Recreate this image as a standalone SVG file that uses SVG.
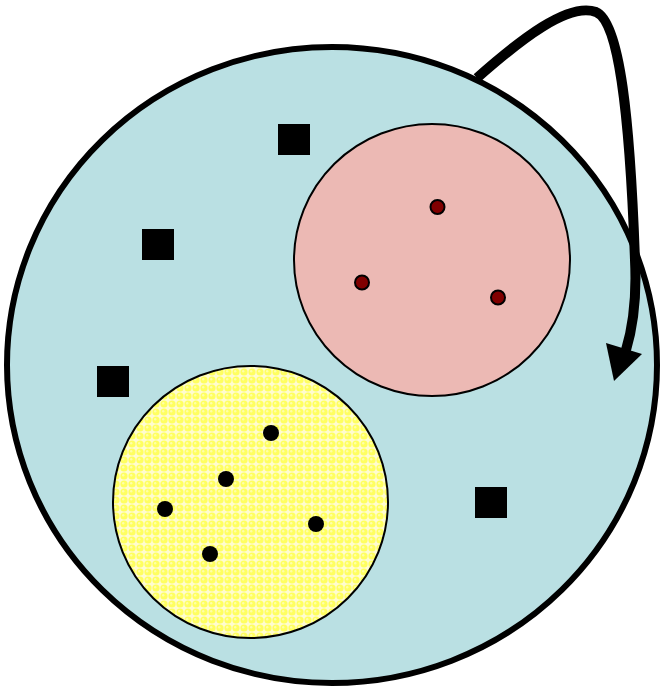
<svg xmlns="http://www.w3.org/2000/svg" width="663" height="688" viewBox="0 0 663 688">
<style>
.sq{fill:#000}
.rd{fill:#800000;stroke:#000;stroke-width:2}
.bd{fill:#000}
</style>
<defs>
<pattern id="dots" width="8" height="8" patternUnits="userSpaceOnUse">
<rect width="8" height="8" fill="#fffcd0"/>
<circle cx="4" cy="4" r="3.6" fill="#ffff60"/>
<circle cx="3.2" cy="3.2" r="1.2" fill="#ffffa8"/>
</pattern>
</defs>
<g id="cell">
<ellipse cx="332" cy="365" rx="325" ry="318" fill="#bae0e3" stroke="#000" stroke-width="6"/>
</g>
<g id="connectors">
<path d="M477,78 C520,40 568,2 596,12 C620,22 630,120 635,260 C637,300 632,330 626,350" fill="none" stroke="#000" stroke-width="10"/>
<polygon points="606,343 642,354 614,381" fill="#000"/>
</g>
<g id="pink">
<ellipse cx="432" cy="260" rx="138" ry="136" fill="#ecb9b4" stroke="#000" stroke-width="2"/>
<circle class="rd" cx="437.5" cy="207" r="7"/>
<circle class="rd" cx="362" cy="282.5" r="7"/>
<circle class="rd" cx="498" cy="297.5" r="7"/>
</g>
<g id="yellow">
<ellipse cx="250.5" cy="502" rx="137.5" ry="136" fill="url(#dots)" stroke="#000" stroke-width="2"/>
<circle class="bd" cx="271" cy="433" r="8"/>
<circle class="bd" cx="226" cy="479" r="8"/>
<circle class="bd" cx="165" cy="509" r="8"/>
<circle class="bd" cx="316" cy="524" r="8"/>
<circle class="bd" cx="210" cy="554" r="8"/>
</g>
<g id="squares">
<rect class="sq" x="278" y="124" width="32" height="31"/>
<rect class="sq" x="142" y="229" width="32" height="31"/>
<rect class="sq" x="97" y="366" width="32" height="31"/>
<rect class="sq" x="475" y="487" width="32" height="31"/>
</g>
</svg>
